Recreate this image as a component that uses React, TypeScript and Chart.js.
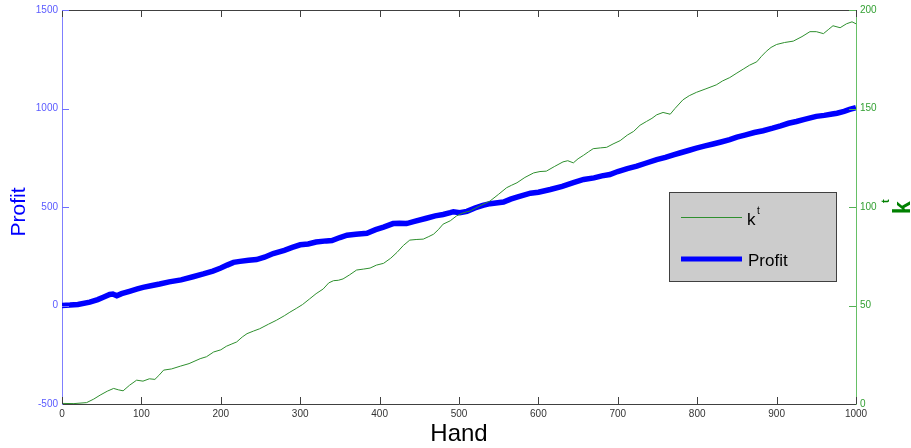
import React, { useEffect, useRef } from "react";
import { Chart, registerables } from "chart.js";

Chart.register(...registerables);

// ---- data ----
const kHands = [0, 15, 31, 40, 48, 57, 65, 71, 77, 85, 94, 102, 110, 117, 122, 128, 138, 149, 160, 174, 182, 191, 200, 207, 214, 220, 227, 233, 241, 249, 260, 270, 280, 287, 295, 303, 312, 320, 329, 336, 342, 348, 354, 362, 371, 380, 388, 396, 405, 414, 422, 430, 438, 446, 455, 462, 468, 474, 480, 489, 497, 505, 514, 526, 539, 550, 560, 566, 573, 583, 594, 602, 610, 620, 631, 637, 644, 650, 657, 663, 669, 678, 686, 694, 703, 712, 720, 728, 736, 743, 749, 757, 766, 772, 782, 790, 799, 811, 824, 832, 841, 850, 858, 866, 875, 881, 887, 893, 900, 910, 921, 932, 942, 950, 959, 965, 971, 980, 988, 995, 1000];
const kValues = [0.3, 0.2, 0.7, 2.5, 4.5, 6.5, 7.9, 7.2, 6.7, 9.5, 12.1, 11.6, 12.8, 12.5, 14.5, 17.2, 17.8, 19.2, 20.5, 23, 24, 26.4, 27.5, 29.3, 30.5, 31.5, 34, 35.7, 37, 38.2, 40.5, 42.5, 44.8, 46.6, 48.5, 50.5, 53.4, 56, 58.4, 61.5, 62.6, 62.8, 63.5, 65.5, 68, 68.5, 69, 70.5, 71.4, 74, 77, 80.5, 83.2, 83.5, 83.7, 85, 86.2, 88.5, 91.3, 93, 95.5, 97, 98, 100.5, 103, 106.5, 109.8, 111, 112.3, 115, 117.3, 118, 118.2, 120.5, 122.9, 123.5, 122.4, 124.5, 126.3, 128, 129.6, 130, 130.3, 132, 133.7, 136.5, 138.4, 141.5, 143.4, 145, 146.8, 148, 147.1, 150, 154.4, 156.5, 158.2, 160, 162, 164, 165.7, 168, 170, 172, 173.7, 176.5, 179, 181, 182.5, 183.5, 184.2, 186.5, 189, 189, 188, 190, 192, 191, 193, 194, 193];

const profitHands = [0, 10, 20, 35, 45, 52, 60, 64, 69, 75, 85, 95, 102, 112, 123, 135, 150, 165, 178, 190, 200, 208, 216, 224, 235, 245, 255, 266, 280, 290, 300, 310, 320, 333, 340, 350, 359, 370, 384, 395, 405, 417, 425, 434, 445, 459, 470, 480, 489, 493, 501, 510, 520, 530, 539, 556, 565, 573, 590, 600, 615, 630, 645, 657, 670, 680, 690, 700, 712, 724, 735, 749, 760, 770, 778, 790, 799, 810, 820, 830, 841, 850, 860, 872, 883, 895, 905, 915, 925, 935, 945, 950, 960, 970, 976, 985, 992, 1000];
const profitValues = [0, 2, 5, 17, 30, 42, 56, 58, 49, 60, 72, 84, 92, 100, 109, 120, 130, 146, 160, 175, 190, 205, 219, 224, 230, 233, 245, 264, 280, 295, 308, 312, 322, 328, 330, 345, 357, 362, 367, 385, 398, 416, 418, 416, 428, 443, 455, 462, 471, 476, 471, 478, 495, 508, 517, 525, 540, 550, 570, 575, 589, 605, 625, 640, 648, 658, 665, 680, 695, 707, 722, 741, 752, 765, 774, 788, 799, 810, 820, 830, 842, 855, 865, 878, 887, 900, 912, 925, 934, 945, 955, 960, 965, 972, 976, 985, 995, 1005];

const xTicks = [0, 100, 200, 300, 400, 500, 600, 700, 800, 900, 1000];
const profitTicks = [-500, 0, 500, 1000, 1500];
const kTicks = [0, 50, 100, 150, 200];

const seriesLabels = ["k", "Profit"];

const FONT = "'Liberation Sans', Arial, sans-serif";
const BLUE = "#0000ff";
const GREEN_LINE = "#2e8f2e";
const GREEN_TEXT = "#008000";

const plain = (v: any) => String(v);

const decorPlugin = {
  id: "decor",
  afterDraw(chart: any) {
    const ctx = chart.ctx;
    const { left, right, top, bottom } = chart.chartArea;
    const xs = chart.scales.x;
    const ys = chart.scales.y;
    const y1 = chart.scales.y1;
    const TL = 7;
    ctx.save();
    // top border
    ctx.strokeStyle = "#404040";
    ctx.lineWidth = 1;
    ctx.beginPath();
    ctx.moveTo(left, top + 0.5);
    ctx.lineTo(right, top + 0.5);
    ctx.stroke();
    // x ticks inward (bottom & top)
    xTicks.forEach((v) => {
      const px = Math.round(xs.getPixelForValue(v)) + 0.5;
      ctx.beginPath();
      ctx.moveTo(px, bottom);
      ctx.lineTo(px, bottom - TL);
      ctx.moveTo(px, top);
      ctx.lineTo(px, top + TL);
      ctx.stroke();
    });
    // left ticks
    ctx.strokeStyle = "#6f6fff";
    profitTicks.forEach((v) => {
      const py = Math.round(ys.getPixelForValue(v)) + 0.5;
      if (v === -500) return;
      ctx.beginPath();
      ctx.moveTo(left, py);
      ctx.lineTo(left + TL, py);
      ctx.stroke();
    });
    // right ticks
    ctx.strokeStyle = "#55b055";
    kTicks.forEach((v) => {
      const py = Math.round(y1.getPixelForValue(v)) + 0.5;
      if (v === 0) return;
      ctx.beginPath();
      ctx.moveTo(right, py);
      ctx.lineTo(right - TL, py);
      ctx.stroke();
    });

    // axis titles
    ctx.fillStyle = BLUE;
    ctx.font = `21px ${FONT}`;
    ctx.textAlign = "center";
    ctx.textBaseline = "alphabetic";
    ctx.save();
    ctx.translate(25, 212);
    ctx.rotate(-Math.PI / 2);
    ctx.fillText("Profit", 0, 0);
    ctx.restore();

    ctx.fillStyle = "#000000";
    ctx.font = `24px ${FONT}`;
    ctx.fillText("Hand", (left + right) / 2, 441);

    // right title k^t
    ctx.fillStyle = GREEN_TEXT;
    ctx.save();
    ctx.translate(910, 214);
    ctx.rotate(-Math.PI / 2);
    ctx.textAlign = "left";
    ctx.font = `bold 23px ${FONT}`;
    ctx.fillText(seriesLabels[0], 0, 0);
    ctx.font = `bold 11px ${FONT}`;
    ctx.fillText("t", 11, -21);
    ctx.restore();

    // legend
    const bx = 669.5, by = 192.5, bw = 167, bh = 89;
    ctx.fillStyle = "#cccccc";
    ctx.fillRect(bx, by, bw, bh);
    ctx.strokeStyle = "#404040";
    ctx.lineWidth = 1;
    ctx.strokeRect(bx, by, bw, bh);
    const dsK = chart.data.datasets[0];
    const dsP = chart.data.datasets[1];
    ctx.strokeStyle = dsK.borderColor;
    ctx.lineWidth = 1;
    ctx.beginPath();
    ctx.moveTo(681, 217.5);
    ctx.lineTo(742, 217.5);
    ctx.stroke();
    ctx.strokeStyle = dsP.borderColor;
    ctx.lineWidth = 5;
    ctx.beginPath();
    ctx.moveTo(681, 259);
    ctx.lineTo(742, 259);
    ctx.stroke();
    ctx.fillStyle = "#000000";
    ctx.textAlign = "left";
    ctx.font = `17px ${FONT}`;
    ctx.fillText(seriesLabels[0], 747, 225);
    ctx.font = `10px ${FONT}`;
    ctx.fillText("t", 757, 214);
    ctx.font = `17px ${FONT}`;
    ctx.fillText(seriesLabels[1], 748, 266);
    ctx.restore();
  },
};

export default function App() {
  const ref = useRef<HTMLCanvasElement | null>(null);
  useEffect(() => {
    if (!ref.current) return;
    const kData = kHands.map((h, i) => ({ x: h, y: kValues[i] }));
    const pData = profitHands.map((h, i) => ({ x: h, y: profitValues[i] }));
    const chart = new Chart(ref.current, {
      type: "line",
      data: {
        datasets: [
          {
            label: "kt",
            data: kData,
            yAxisID: "y1",
            borderColor: GREEN_LINE,
            borderWidth: 1,
            pointRadius: 0,
            tension: 0,
          },
          {
            label: "Profit",
            data: pData,
            yAxisID: "y",
            borderColor: BLUE,
            borderWidth: 5.5,
            pointRadius: 0,
            tension: 0,
          },
        ],
      },
      options: {
        animation: false,
        responsive: false,
        devicePixelRatio: 1,
        layout: { padding: { top: 8, left: 0, right: 0, bottom: 0 } },
        plugins: { legend: { display: false }, tooltip: { enabled: false } },
        scales: {
          x: {
            type: "linear",
            min: 0,
            max: 1000,
            afterFit: (s: any) => { s.height = 44; },
            afterBuildTicks: (s: any) => { s.ticks = xTicks.map((v) => ({ value: v })); },
            grid: { display: true, drawOnChartArea: false, drawTicks: false },
            border: { display: true, color: "#404040", width: 1 },
            ticks: { color: "#333333", font: { family: FONT, size: 10 }, padding: 4, maxRotation: 0, callback: plain },
          },
          y: {
            type: "linear",
            position: "left",
            min: -500,
            max: 1500,
            afterFit: (s: any) => { s.width = 62; },
            afterBuildTicks: (s: any) => { s.ticks = profitTicks.map((v) => ({ value: v })); },
            grid: { display: true, drawOnChartArea: false, drawTicks: false },
            border: { display: true, color: "#7f7fff", width: 1 },
            ticks: { color: "#5a5aff", font: { family: FONT, size: 10 }, padding: 4, callback: plain },
          },
          y1: {
            type: "linear",
            position: "right",
            min: 0,
            max: 200,
            afterFit: (s: any) => { s.width = 55; },
            afterBuildTicks: (s: any) => { s.ticks = kTicks.map((v) => ({ value: v })); },
            grid: { display: true, drawOnChartArea: false, drawTicks: false },
            border: { display: true, color: "#66c066", width: 1 },
            ticks: { color: "#33a033", font: { family: FONT, size: 10 }, padding: 4, callback: plain },
          },
        },
      },
      plugins: [decorPlugin],
    });
    return () => chart.destroy();
  }, []);
  return (
    <div style={{ position: "fixed", left: 0, top: 0, width: 911, height: 448, background: "#fff" }}>
      <canvas ref={ref} width={911} height={448} style={{ display: "block", width: 911, height: 448 }} />
    </div>
  );
}
